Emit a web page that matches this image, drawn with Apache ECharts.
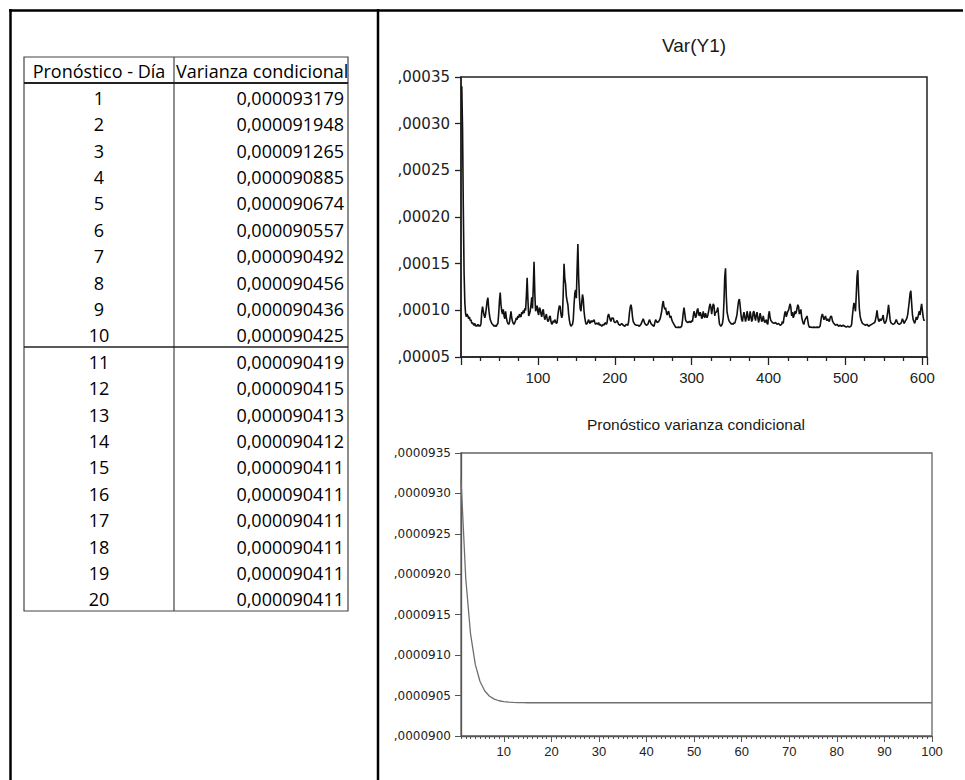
<!DOCTYPE html>
<html><head><meta charset="utf-8">
<script src="https://cdn.jsdelivr.net/npm/echarts@6/dist/echarts.min.js"></script>
<style>html,body{margin:0;padding:0;background:#fff}#c{width:965px;height:780px}</style>
</head><body><div id="c"></div>
<script>
// ---- Table / lower chart data ----
const tableHeaders = ['Pronóstico - Día', 'Varianza condicional'];
const forecastDays = [1,2,3,4,5,6,7,8,9,10,11,12,13,14,15,16,17,18,19,20];
const forecastVariance = [0.000093179,0.000091948,0.000091265,0.000090885,0.000090674,0.000090557,0.000090492,0.000090456,0.000090436,0.000090425,
  0.000090419,0.000090415,0.000090413,0.000090412,0.000090411,0.000090411,0.000090411,0.000090411,0.000090411,0.000090411];
// days 21..100 (flat)
const forecastTail = [
  0.000090411,0.000090411,0.000090411,0.000090411,0.000090411,0.000090411,0.000090411,0.000090411,0.000090411,0.000090411,
  0.000090411,0.000090411,0.000090411,0.000090411,0.000090411,0.000090411,0.000090411,0.000090411,0.000090411,0.000090411,
  0.000090411,0.000090411,0.000090411,0.000090411,0.000090411,0.000090411,0.000090411,0.000090411,0.000090411,0.000090411,
  0.000090411,0.000090411,0.000090411,0.000090411,0.000090411,0.000090411,0.000090411,0.000090411,0.000090411,0.000090411,
  0.000090411,0.000090411,0.000090411,0.000090411,0.000090411,0.000090411,0.000090411,0.000090411,0.000090411,0.000090411,
  0.000090411,0.000090411,0.000090411,0.000090411,0.000090411,0.000090411,0.000090411,0.000090411,0.000090411,0.000090411,
  0.000090411,0.000090411,0.000090411,0.000090411,0.000090411,0.000090411,0.000090411,0.000090411,0.000090411,0.000090411,
  0.000090411,0.000090411,0.000090411,0.000090411,0.000090411,0.000090411,0.000090411,0.000090411,0.000090411,0.000090411];
const forecastHorizon = [];
for (let i = 1; i <= 100; i++) forecastHorizon.push(String(i));
const forecastTickLabels = [',0000900',',0000905',',0000910',',0000915',',0000920',',0000925',',0000930',',0000935'];

// ---- Upper chart: Var(Y1), values in units of 1e-5 ----
const varY1TickLabels = [',00005',',00010',',00015',',00020',',00025',',00030',',00035'];
const varY1XTicks = [100,200,300,400,500,600];
const varY1 = [
[1,34.0],[2,29.5],[3,21.0],[4,14.0],[5,10.8],[6,9.6],[7,9.3],[8,9.6],[9,9.4],[10,9.1],[11,9.3],[12,8.9],[13,9.0],[14,8.6],[15,8.7],[16,8.5],[17,8.4],[18,8.6],[19,8.3],[20,8.4],
[21,8.3],[22,8.5],[23,8.3],[24,8.4],[25,8.3],[26,8.6],[27,9.8],[28,10.4],[29,9.9],[30,9.5],[31,9.2],[32,9.6],[33,10.3],[34,11.0],[35,11.35],[36,10.2],[37,9.5],[38,9.0],[39,8.8],[40,8.6],
[41,8.5],[42,8.4],[43,8.3],[44,8.4],[45,8.3],[46,8.3],[47,8.5],[48,8.6],[49,9.6],[50,11.0],[51,11.9],[52,10.6],[53,9.9],[54,9.6],[55,10.1],[56,9.4],[57,9.1],[58,9.9],[59,9.2],[60,8.8],
[61,8.6],[62,8.5],[63,8.7],[64,9.3],[65,9.9],[66,9.2],[67,8.8],[68,8.6],[69,8.5],[70,8.7],[71,8.9],[72,9.2],[73,9.0],[74,9.4],[75,9.2],[76,9.6],[77,9.4],[78,9.3],[79,9.8],[80,9.6],
[81,10.0],[82,9.7],[83,10.2],[84,10.0],[85,11.5],[86,13.5],[87,11.2],[88,9.4],[89,9.6],[90,9.9],[91,10.6],[92,11.4],[93,10.2],[94,12.5],[95,15.2],[96,11.8],[97,9.9],[98,10.2],[99,10.5],[100,9.8],
[101,9.5],[102,10.3],[103,10.1],[104,9.6],[105,9.3],[106,9.9],[107,10.1],[108,9.4],[109,9.0],[110,9.3],[111,9.6],[112,9.1],[113,8.8],[114,8.9],[115,9.3],[116,9.4],[117,8.8],[118,8.5],[119,8.6],[120,8.9],
[121,8.7],[122,9.0],[123,8.8],[124,8.6],[125,8.7],[126,9.5],[127,10.1],[128,10.5],[129,10.4],[130,9.6],[131,9.2],[132,9.5],[133,12.0],[134,15.0],[135,13.4],[136,12.8],[137,11.5],[138,11.0],[139,10.6],[140,9.6],
[141,8.9],[142,8.5],[143,8.3],[144,8.4],[145,8.5],[146,9.0],[147,10.6],[148,11.8],[149,12.2],[150,11.3],[151,14.5],[152,17.1],[153,13.5],[154,11.4],[155,10.2],[156,9.9],[157,10.8],[158,11.7],[159,11.2],[160,9.9],
[161,9.2],[162,8.7],[163,8.5],[164,8.6],[165,8.8],[166,9.0],[167,8.7],[168,8.6],[169,8.9],[170,8.7],[171,8.9],[172,8.8],[173,9.0],[174,8.7],[175,8.5],[176,8.6],[177,8.6],[178,8.5],[179,8.7],[180,8.4],
[181,8.5],[182,8.4],[183,8.3],[184,8.4],[185,8.5],[186,8.4],[187,8.6],[188,8.7],[189,8.5],[190,8.7],[191,9.4],[192,9.6],[193,9.3],[194,9.0],[195,8.8],[196,9.2],[197,9.1],[198,9.2],[199,8.8],[200,8.7],
[201,8.7],[203,8.9],[205,8.5],[207,8.4],[209,8.6],[211,8.4],[213,8.3],[215,8.5],[217,8.4],[218,8.8],[219,9.7],[220,10.3],[221,10.6],[222,10.2],[223,9.3],[224,8.8],[226,8.5],[228,8.4],[230,8.4],[232,8.3],
[234,8.5],[236,8.9],[237,9.1],[239,8.6],[241,8.4],[243,8.5],[245,9.0],[247,8.6],[249,8.4],[251,8.3],[253,9.0],[255,8.7],[257,8.8],[259,9.1],[261,9.9],[262,10.6],[263,11.0],[264,10.4],[265,10.1],[266,10.3],
[267,9.8],[268,9.5],[269,9.8],[270,9.9],[271,9.5],[272,9.2],[273,9.4],[274,9.0],[275,8.8],[277,8.5],[279,8.2],[281,8.15],[283,8.2],[285,8.15],[287,8.3],[288,8.9],[289,9.7],[290,10.3],[291,9.7],[292,9.0],
[293,8.8],[295,8.7],[297,8.8],[299,8.7],[300,8.9],[301,8.8],[302,9.4],[303,9.9],[304,9.6],[305,9.2],[306,9.4],[307,10.0],[308,10.2],[309,9.6],[310,9.4],[311,9.8],[312,9.6],[313,9.1],[314,9.3],[315,9.9],
[316,9.4],[317,9.2],[318,9.7],[319,9.4],[320,9.2],[321,9.5],[322,9.9],[323,10.4],[324,10.7],[325,10.3],[326,9.6],[327,10.2],[328,10.7],[329,10.5],[330,9.4],[331,9.8],[332,9.8],[333,10.0],[334,10.3],[335,9.4],
[336,8.6],[337,8.4],[338,8.3],[339,8.4],[340,8.6],[341,9.2],[342,11.0],[343,13.6],[344,14.5],[345,11.5],[346,9.8],[347,9.4],[348,9.0],[349,8.8],[350,8.7],[351,8.6],[352,8.5],[353,8.6],[354,8.5],[355,8.7],
[356,8.6],[357,8.9],[358,9.2],[359,9.6],[360,10.4],[361,11.0],[362,11.2],[363,10.5],[364,9.6],[365,9.0],[366,8.8],[367,9.4],[368,9.8],[369,9.3],[370,8.8],[371,9.2],[372,9.9],[373,9.5],[374,8.9],[375,9.1],
[376,9.9],[377,9.4],[378,8.8],[379,9.0],[380,9.8],[381,9.9],[382,9.3],[383,8.9],[384,9.5],[385,9.8],[386,9.2],[387,8.7],[388,9.1],[389,9.7],[390,9.3],[391,8.8],[392,8.9],[393,9.4],[394,9.0],[395,8.7],
[396,8.8],[397,9.0],[398,8.6],[399,8.5],[400,9.5],[401,9.9],[402,9.2],[403,8.9],[405,8.7],[407,8.6],[409,8.7],[411,8.5],[413,8.6],[415,8.4],[417,8.5],[418,8.8],[419,8.6],[420,9.2],[421,9.7],[422,9.9],
[423,9.3],[424,9.6],[425,9.9],[426,10.0],[427,10.4],[428,10.7],[429,10.3],[430,9.4],[431,9.8],[432,9.2],[433,9.4],[434,9.9],[435,9.6],[436,9.8],[437,10.2],[438,10.6],[439,10.4],[440,9.6],[441,9.8],[442,10.1],
[443,9.3],[444,8.9],[445,8.6],[446,8.5],[447,8.9],[448,9.1],[449,9.2],[450,9.4],[451,8.9],[452,8.4],[453,8.2],[455,8.2],[457,8.15],[459,8.2],[461,8.15],[463,8.2],[465,8.15],[467,8.3],[468,8.9],[469,9.4],
[470,9.6],[471,9.3],[472,9.0],[473,9.2],[474,9.4],[475,9.0],[476,8.9],[477,9.1],[478,8.9],[479,8.8],[480,9.2],[481,9.4],[482,9.3],[483,8.9],[484,8.7],[485,8.6],[487,8.4],[489,8.5],[491,8.3],[493,8.4],
[495,8.3],[497,8.4],[499,8.3],[501,8.2],[503,8.3],[505,8.2],[507,8.3],[508,8.5],[509,9.4],[510,10.2],[511,10.8],[512,10.4],[513,9.9],[514,11.6],[515,13.6],[516,14.3],[517,12.0],[518,10.2],[519,9.4],[520,9.0],
[521,8.8],[522,8.6],[524,8.5],[526,8.4],[528,8.5],[530,8.3],[532,8.4],[534,8.5],[536,8.6],[538,8.7],[539,9.0],[540,9.4],[541,10.0],[542,9.3],[543,8.9],[544,8.8],[545,9.1],[546,8.9],[547,9.0],[548,9.2],
[549,9.5],[550,8.8],[551,8.6],[552,8.7],[553,8.9],[554,9.3],[555,9.9],[556,10.6],[557,9.8],[558,9.0],[559,8.7],[560,8.6],[562,8.5],[564,8.6],[565,8.8],[566,9.0],[567,8.8],[568,8.6],[570,8.5],[572,8.6],
[573,8.8],[574,9.1],[575,8.9],[576,8.6],[577,8.7],[578,8.9],[579,9.0],[580,9.2],[581,9.6],[582,10.3],[583,11.0],[584,11.8],[585,12.1],[586,10.8],[587,9.6],[588,9.0],[589,8.8],[590,8.6],[591,8.9],[592,9.3],
[593,9.0],[594,9.2],[595,9.6],[596,9.9],[597,9.5],[598,10.2],[599,10.7],[600,10.0],[601,9.3],[602,8.9],[603,9.0]
];

// ---- build ----
const chart = echarts.init(document.getElementById('c'), null, {renderer: 'svg'});

const tbl = {left: 24, right: 348, top: 57, headBottom: 83, bottom: 611, colSplit: 174, rowH: 26.4};
const graphics = [];
// outer frame
graphics.push({type:'line', shape:{x1:9, y1:10.5, x2:963, y2:10.5}, style:{stroke:'#000', lineWidth:2.5}});
graphics.push({type:'line', shape:{x1:10.5, y1:9, x2:10.5, y2:780}, style:{stroke:'#000', lineWidth:2.5}});
graphics.push({type:'line', shape:{x1:378, y1:9, x2:378, y2:780}, style:{stroke:'#000', lineWidth:2.5}});
// table grid
graphics.push({type:'rect', shape:{x:tbl.left, y:tbl.top, width:tbl.right-tbl.left, height:tbl.bottom-tbl.top}, style:{fill:'none', stroke:'#444', lineWidth:1.2}});
graphics.push({type:'line', shape:{x1:tbl.colSplit, y1:tbl.top, x2:tbl.colSplit, y2:tbl.bottom}, style:{stroke:'#444', lineWidth:1.2}});
graphics.push({type:'line', shape:{x1:tbl.left, y1:tbl.headBottom, x2:tbl.right, y2:tbl.headBottom}, style:{stroke:'#222', lineWidth:2}});
graphics.push({type:'line', shape:{x1:tbl.left, y1:tbl.headBottom + 10*tbl.rowH, x2:tbl.right, y2:tbl.headBottom + 10*tbl.rowH}, style:{stroke:'#222', lineWidth:1.3}});
const tFont = '18px "Open Sans", sans-serif';
graphics.push({type:'text', style:{text: tableHeaders[0], x: 99, y: 71, align:'center', verticalAlign:'middle', font: tFont, fill:'#000'}});
graphics.push({type:'text', style:{text: tableHeaders[1], x: 176, y: 71, align:'left', verticalAlign:'middle', font: tFont, fill:'#000'}});
forecastDays.forEach((d, i) => {
  const yc = tbl.headBottom + tbl.rowH * (i + 0.5) + 1.5;
  graphics.push({type:'text', style:{text: String(d), x: 99, y: yc, align:'center', verticalAlign:'middle', font: tFont, fill:'#000'}});
  graphics.push({type:'text', style:{text: forecastVariance[i].toFixed(9).replace('.', ','), x: 344, y: yc, align:'right', verticalAlign:'middle', font: tFont, fill:'#000'}});
});
// chart titles
graphics.push({type:'text', style:{text:'Var(Y1)', x:694, y:45, align:'center', verticalAlign:'middle', font:'19px "Liberation Sans", Arial, sans-serif', fill:'#1a1a1a'}});
graphics.push({type:'text', style:{text:'Pronóstico varianza condicional', x:696, y:424, align:'center', verticalAlign:'middle', font:'15.5px "Liberation Sans", Arial, sans-serif', fill:'#1a1a1a'}});

const forecastCurve = forecastVariance.concat(forecastTail);
const isMajor = (i) => (i + 1) % 10 === 0;

chart.setOption({
  animation: false,
  graphic: graphics,
  grid: [
    {left: 461, top: 77, width: 466, height: 280, show: true, borderColor: '#222', borderWidth: 1.5, backgroundColor: 'transparent'},
    {left: 461, top: 453, width: 471, height: 283, show: true, borderColor: '#666', borderWidth: 1.3, backgroundColor: 'transparent'}
  ],
  xAxis: [
    {type: 'value', gridIndex: 0, min: 0, max: 606, interval: 100,
     axisLine: {lineStyle: {color: '#222', width: 1.5}},
     axisTick: {length: 8, lineStyle: {color: '#222', width: 1.3}},
     minorTick: {show: true, splitNumber: 4, length: 4, lineStyle: {color: '#222', width: 1.3}},
     splitLine: {show: false},
     axisLabel: {margin: 13, fontSize: 15, fontFamily: '"Liberation Sans", Arial', color: '#222',
       formatter: (v) => varY1XTicks.indexOf(v) >= 0 ? String(v) : ''}},
    {type: 'category', gridIndex: 1, data: forecastHorizon, boundaryGap: false, position: 'bottom',
     axisLine: {lineStyle: {color: '#555', width: 1.3}},
     axisTick: {interval: 0, length: 3, lineStyle: {color: '#555', width: 1}},
     axisLabel: {show: false}, splitLine: {show: false}},
    {type: 'category', gridIndex: 1, data: forecastHorizon, boundaryGap: false, position: 'bottom',
     axisLine: {show: false},
     axisTick: {interval: isMajor, length: 6, lineStyle: {color: '#555', width: 1}},
     axisLabel: {interval: isMajor, margin: 9, fontSize: 13, fontFamily: '"Liberation Sans", Arial', color: '#222'},
     splitLine: {show: false}}
  ],
  yAxis: [
    {type: 'value', gridIndex: 0, min: 5, max: 35, interval: 5,
     axisLine: {show: true, lineStyle: {color: '#222', width: 1.5}},
     axisTick: {show: true, length: 6, lineStyle: {color: '#222', width: 1.3}},
     splitLine: {show: false},
     axisLabel: {margin: 11, fontSize: 15, fontFamily: '"DejaVu Sans", sans-serif', color: '#222',
       formatter: (v) => varY1TickLabels[Math.round((v - 5) / 5)]}},
    {type: 'value', gridIndex: 1, min: 0.00009, max: 0.0000935, interval: 0.0000005,
     axisLine: {show: true, lineStyle: {color: '#555', width: 1.3}},
     axisTick: {show: true, length: 6, lineStyle: {color: '#555', width: 1}},
     splitLine: {show: false},
     axisLabel: {margin: 10, fontSize: 12, fontFamily: '"DejaVu Sans", sans-serif', color: '#222',
       formatter: (v) => forecastTickLabels[Math.round((v - 0.00009) / 0.0000005)]}}
  ],
  series: [
    {type: 'line', xAxisIndex: 0, yAxisIndex: 0, data: varY1, showSymbol: false,
     lineStyle: {color: '#111', width: 1.6}},
    {type: 'line', xAxisIndex: 1, yAxisIndex: 1, data: forecastCurve, showSymbol: false,
     lineStyle: {color: '#6e6e6e', width: 1.3}}
  ]
});
</script></body></html>
